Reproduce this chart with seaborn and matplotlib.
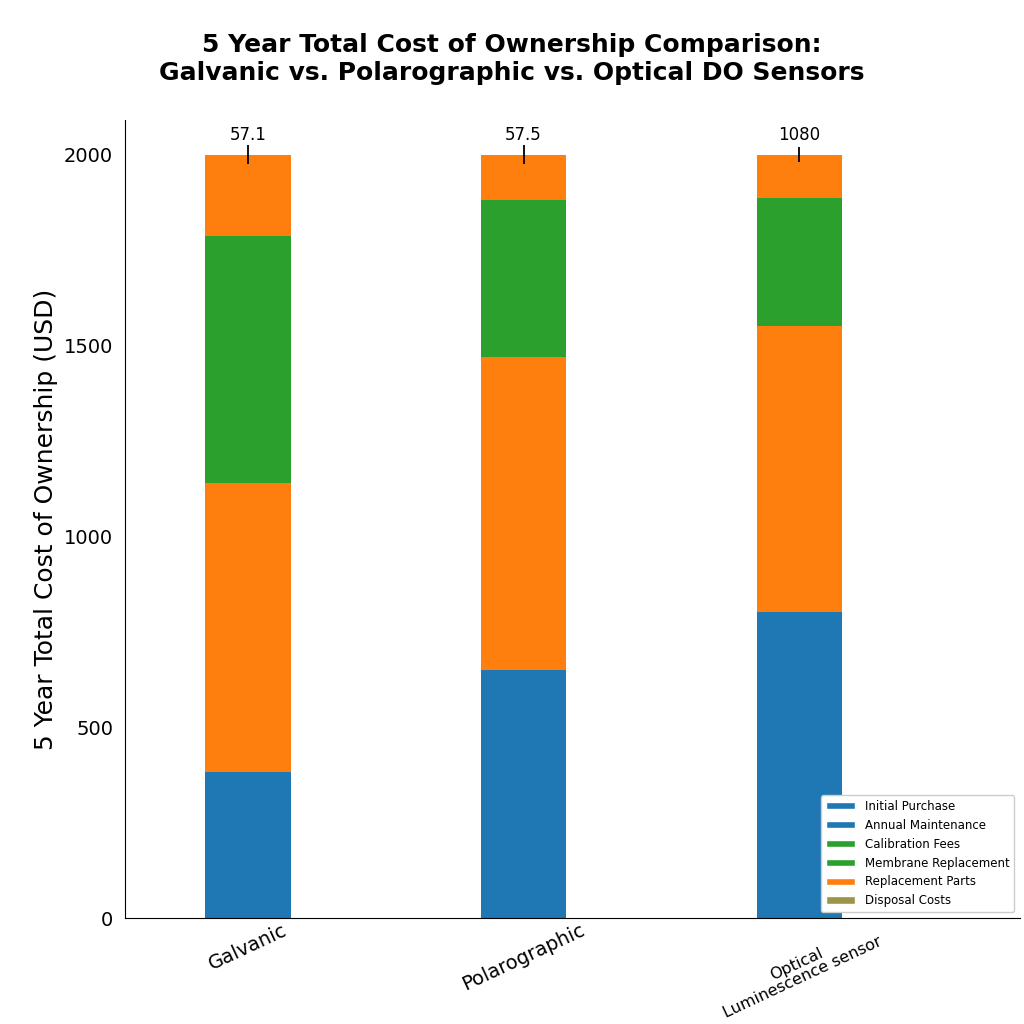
import numpy as np
import pandas as pd
import matplotlib
matplotlib.use("Agg")
import matplotlib.pyplot as plt
import seaborn as sns
from matplotlib.patches import Patch

# Datos (USD)
sensores = ["Galvanic", "Polarographic", "Optical\nLuminescence sensor"]
compra_inicial = [382, 649, 801]
repuestos = [759, 820, 751]
calibracion = [647, 411, 335]
otros = [212, 120, 113]
etiquetas_top = ["57.1", "57.5", "1080"]
error_top = [25, 25, 20]

segmentos = ["Initial Purchase", "Replacement Parts", "Calibration Fees", "Other"]
colores_seg = ["#1f77b4", "#ff7f0e", "#2ca02c", "#ff7f0e"]

leyenda_txt = ["Initial Purchase", "Annual Maintenance", "Calibration Fees",
               "Membrane Replacement", "Replacement Parts", "Disposal Costs"]
leyenda_col = ["#1f77b4", "#1f77b4", "#2ca02c", "#2ca02c", "#ff7f0e", "#9c9446"]

df = pd.DataFrame({"Sensor": sensores,
                   "Initial Purchase": compra_inicial,
                   "Replacement Parts": repuestos,
                   "Calibration Fees": calibracion,
                   "Other": otros})

sns.set_style("white")
plt.rcParams["text.color"] = "black"
plt.rcParams["xtick.color"] = "black"
plt.rcParams["ytick.color"] = "black"
plt.rcParams["axes.labelcolor"] = "black"

fig = plt.figure(figsize=(10.24, 10.24), dpi=100)
ax = fig.add_axes([0.122, 0.1035, 0.874, 0.779])

# Barras apiladas: se dibujan los acumulados de arriba hacia abajo
acum = df[segmentos].cumsum(axis=1)
for seg, col in reversed(list(zip(segmentos, colores_seg))):
    sns.barplot(x=df["Sensor"], y=acum[seg], color=col, width=0.31,
                saturation=1, linewidth=0, ax=ax, zorder=2)

totales = acum[segmentos[-1]].values
ax.errorbar(np.arange(len(sensores)), totales, yerr=error_top, fmt="none",
            ecolor="black", elinewidth=1.3, capsize=0, zorder=3)
for i, (t, lab) in enumerate(zip(totales, etiquetas_top)):
    ax.text(i, t + 28, lab, ha="center", va="bottom", fontsize=12)

ax.set_xlim(-0.446, 2.8)
ax.set_ylim(0, 2090)
ax.set_yticks([0, 500, 1000, 1500, 2000])
ax.tick_params(axis="y", labelsize=14, length=5)
ax.tick_params(axis="x", labelsize=14, length=0, pad=2)
plt.setp(ax.get_xticklabels(), rotation=25, ha="center", linespacing=1.0)
ax.get_xticklabels()[2].set_fontsize(11.5)
ax.set_xlabel("")
ax.set_ylabel("5 Year Total Cost of Ownership (USD)", fontsize=18)
for s in ["top", "right"]:
    ax.spines[s].set_visible(False)
for s in ["left", "bottom"]:
    ax.spines[s].set_color("black")

fig.suptitle("5 Year Total Cost of Ownership Comparison:\n"
             "Galvanic vs. Polarographic vs. Optical DO Sensors",
             fontsize=18, fontweight="bold", y=0.968)

handles = [Patch(facecolor=c, label=l) for l, c in zip(leyenda_txt, leyenda_col)]
leg = ax.legend(handles=handles, loc="lower right", bbox_to_anchor=(1.0, 0.0),
                fontsize=8.5, handlelength=2.5, handleheight=0.6,
                frameon=True, framealpha=1)
leg.set_zorder(5)

fig.savefig("out.png", dpi=100, facecolor="white")
